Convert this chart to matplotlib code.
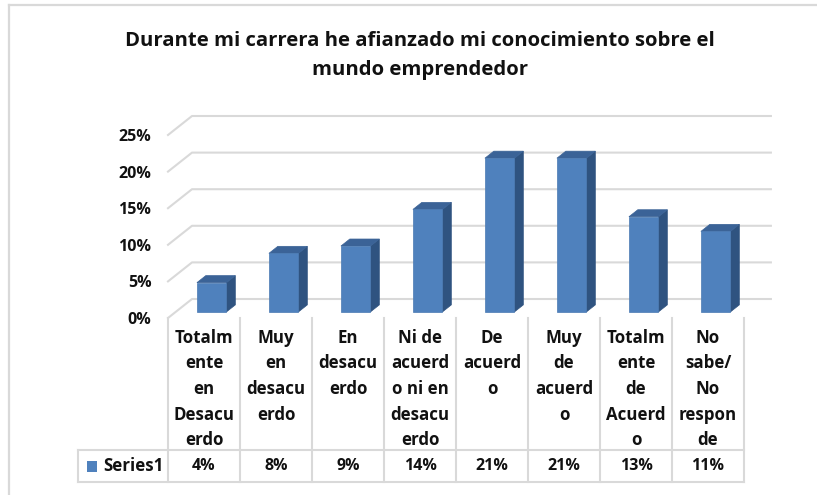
import matplotlib.pyplot as plt
from matplotlib.patches import Polygon, Rectangle
import matplotlib.lines as mlines

plt.rcParams['font.family'] = ['Open Sans', 'DejaVu Sans']
plt.rcParams['font.weight'] = 'bold'

title_lines = ["Durante mi carrera he afianzado mi conocimiento sobre el",
               "mundo emprendedor"]
categories = ["Totalm\nente\nen\nDesacu\nerdo",
              "Muy\nen\ndesacu\nerdo",
              "En\ndesacu\nerdo",
              "Ni de\nacuerd\no ni en\ndesacu\nerdo",
              "De\nacuerd\no",
              "Muy\nde\nacuerd\no",
              "Totalm\nente\nde\nAcuerd\no",
              "No\nsabe/\nNo\nrespon\nde"]
values = [4, 8, 9, 14, 21, 21, 13, 11]
yticks = [0, 5, 10, 15, 20, 25]
series_name = "Series1"

W, H = 817, 495
fig = plt.figure(figsize=(W / 100, H / 100), dpi=100)

# chart border
fig.add_artist(mlines.Line2D([9 / W, 1.01], [1 - 5 / H, 1 - 5 / H], color='#d9d9d9', lw=1.6))
fig.add_artist(mlines.Line2D([9 / W, 9 / W], [1 - 5 / H, -0.01], color='#d9d9d9', lw=1.6))

fig.text(420 / W, 1 - 46 / H, title_lines[0], ha='center', va='baseline', fontsize=14.6, color='#111111')
fig.text(420 / W, 1 - 75 / H, title_lines[1], ha='center', va='baseline', fontsize=14.6, color='#111111')

# front plane of the plot: x -0.5..7.5 -> px 168..744, y 0..25 -> px 318..135
ax = fig.add_axes([168 / W, 1 - 318 / H, 576 / W, 183 / H])
n = len(values)
ax.set_xlim(-0.5, n - 0.5)
ax.set_ylim(0, 25)
for s in ax.spines.values():
    s.set_visible(False)
ax.set_xticks([])
ax.set_yticks(yticks)
ax.set_yticklabels([f"{t}%" for t in yticks], fontsize=11.5, color='#111111')
ax.tick_params(axis='y', length=0, pad=12)
ax.patch.set_alpha(0)

xpx = 576 / n          # pixels per category
ypx = 183 / 25         # pixels per percent
DX, DY = 24 / xpx, 19 / ypx   # full depth of the box in data units
grid = '#d9d9d9'

# walls
for t in yticks:
    ax.plot([-0.5, -0.5 + DX, n - 0.5 + DX + 0.04], [t, t + DY, t + DY],
            color=grid, lw=1.5, clip_on=False, zorder=1)

# 3d bars
f0, f1 = 0.32, 0.69
w = 0.41
front = '#4f81bd'
top_c = '#3b6397'
side_c = '#2f5380'
for i, v in enumerate(values):
    x0 = i - w / 2 + f0 * DX
    x1 = x0 + w
    y0 = f0 * DY
    y1 = y0 + v
    ddx, ddy = (f1 - f0) * DX, (f1 - f0) * DY
    ax.add_patch(Polygon([(x1, y0), (x1 + ddx, y0 + ddy), (x1 + ddx, y1 + ddy), (x1, y1)],
                         closed=True, fc=side_c, ec=side_c, lw=0.5, clip_on=False, zorder=3))
    ax.add_patch(Polygon([(x0, y1), (x1, y1), (x1 + ddx, y1 + ddy), (x0 + ddx, y1 + ddy)],
                         closed=True, fc=top_c, ec=top_c, lw=0.5, clip_on=False, zorder=3))
ax.bar([i + f0 * DX for i in range(n)], values, width=w, bottom=f0 * DY,
       color=front, edgecolor='#4a7ab3', lw=0.5, zorder=4, clip_on=False)

# data table
row1 = -(450 - 318) / ypx
row2 = -(482 - 318) / ypx
xleft = -0.5 - (168 - 78) / xpx
lkw = dict(color=grid, lw=1.5, clip_on=False, zorder=1)
for k in range(n + 1):
    ax.plot([k - 0.5, k - 0.5], [0, row2], **lkw)
ax.plot([xleft, n - 0.5], [row1, row1], **lkw)
ax.plot([xleft, n - 0.5], [row2, row2], **lkw)
ax.plot([xleft, xleft], [row1, row2], **lkw)

for i, lab in enumerate(categories):
    for j, part in enumerate(lab.split("\n")):
        ax.text(i, -(20 + 25.5 * j) / ypx, part, ha='center', va='center',
                fontsize=12.2, color='#111111', clip_on=False)
    ax.text(i, -(466 - 318) / ypx, f"{values[i]}%", ha='center', va='center',
            fontsize=11.5, color='#111111', clip_on=False)

ax.add_patch(Rectangle((xleft + 9 / xpx, -(472 - 318) / ypx), 10 / xpx, 11 / ypx,
                       fc=front, ec='none', clip_on=False))
ax.text(xleft + 25 / xpx, -(466 - 318) / ypx, series_name, ha='left', va='center',
        fontsize=12.2, color='#111111', clip_on=False)

fig.savefig("out.png", dpi=100)
